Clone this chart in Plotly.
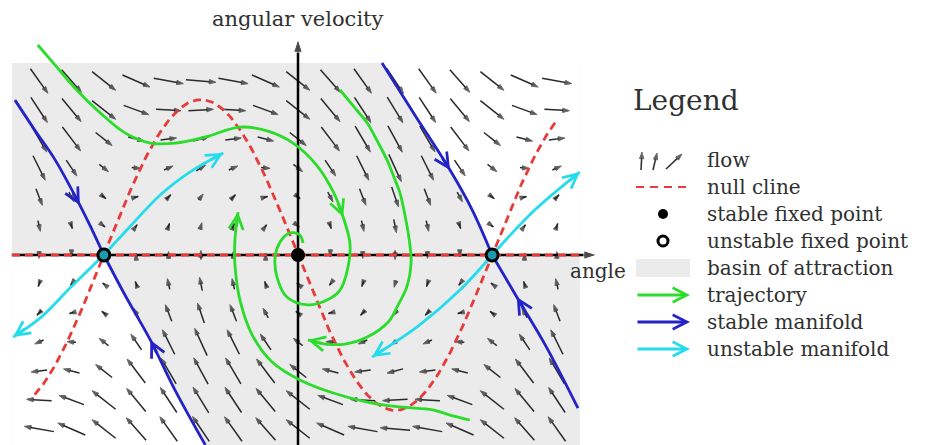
import numpy as np
import plotly.graph_objects as go

# ---- canvas and axis ranges (angle in rad, angular velocity in plot units) ----
W, H = 933, 445
X_RANGE = [-4.822, 10.275]
Y_RANGE = [-6.552, 8.793]
PX_X = W / (X_RANGE[1] - X_RANGE[0])
PX_Y = H / (Y_RANGE[1] - Y_RANGE[0])

# ---- damped pendulum model: theta' = w, w' = -sin(theta) - DAMPING * w ----
DAMPING = 0.56
OMEGA_SCALE = 3.0          # plotted velocity units per rad/s

# field sample grid
theta_grid = np.arange(-8, 9) * np.pi / 6
omega_grid = np.arange(-6, 7).astype(float)

# basin box
BOX_THETA = [-4.63, 4.56]
BOX_OMEGA = [-6.7, 6.62]

# trajectories (angle, angular velocity)
traj1_theta = [-4.21, -3.93, -3.61, -3.20, -2.80, -2.39, -1.99, -1.50, -0.94, -0.50,
               -0.08, 0.30, 0.58, 0.73, 0.84, 0.81, 0.68, 0.47, 0.15, -0.18, -0.34,
               -0.37, -0.29, -0.13, 0.03, 0.08]
traj1_omega = [7.24, 6.55, 5.76, 4.90, 4.21, 3.86, 3.86, 4.07, 4.41, 4.28,
               3.86, 3.10, 2.14, 1.31, 0.41, -0.41, -1.21, -1.55, -1.72, -1.45, -0.76,
               -0.07, 0.45, 0.76, 0.69, 0.41]
traj2_theta = [0.68, 0.92, 1.12, 1.29, 1.44, 1.57, 1.65, 1.73, 1.80, 1.83, 1.76,
               1.62, 1.46, 1.12, 0.76, 0.44, 0.16]
traj2_omega = [5.69, 5.07, 4.55, 3.90, 3.28, 2.59, 2.14, 1.38, 0.52, -0.24, -1.10,
               -1.72, -2.31, -2.83, -3.07, -3.07, -2.93]
traj3_theta = [2.78, 2.46, 2.18, 1.65, 1.12, 0.57, 0.03, -0.42, -0.74, -0.94, -1.02,
               -1.02, -0.97]
traj3_omega = [-5.69, -5.52, -5.34, -5.24, -5.07, -4.76, -4.31, -3.69, -2.76, -1.55,
               -0.34, 0.52, 1.48]

# stable manifolds (flowing into the saddles)
st_ul_theta = [-4.58, -4.26, -3.93, -3.53, -3.33, -np.pi]
st_ul_omega = [5.34, 4.31, 3.28, 1.72, 0.86, 0.0]
st_ll_theta = [-1.50, -1.99, -2.39, -2.80, -np.pi]
st_ll_omega = [-6.55, -4.66, -2.93, -1.38, 0.0]
st_ur_theta = [1.36, 1.89, 2.46, 2.82, np.pi]
st_ur_omega = [6.62, 4.83, 2.93, 1.55, 0.0]
st_lr_theta = [4.53, 4.00, 3.54, np.pi]
st_lr_omega = [-5.28, -3.10, -1.45, 0.0]

# unstable manifolds (leaving the saddles)
un_lu_theta = [-np.pi, -2.77, -2.23, -1.75, -1.21]
un_lu_omega = [0.0, 0.86, 2.07, 2.86, 3.52]
un_ld_theta = [-np.pi, -3.69, -4.17, -4.61]
un_ld_omega = [0.0, -1.14, -2.17, -2.83]
un_ru_theta = [np.pi, 3.83, 4.56]
un_ru_omega = [0.0, 1.55, 2.86]
un_rd_theta = [np.pi, 2.62, 1.97, 1.20]
un_rd_omega = [0.0, -1.21, -2.41, -3.52]

# null clines
NULL_THETA = [-4.26, 4.16]

GREEN = "#2bdc2b"
BLUE = "#2323c8"
CYAN = "#25dcec"
RED = "#e83a3a"
GRAY = "#ebebeb"
TEXT = "#303030"
FONT = "'DejaVu Serif', serif"
HEAD_TAIL_PX = 16

fig = go.Figure()

# basin of attraction
fig.add_shape(type="rect", xref="x", yref="y", x0=BOX_THETA[0], x1=BOX_THETA[1],
              y0=BOX_OMEGA[0], y1=BOX_OMEGA[1], fillcolor=GRAY, line_width=0, layer="below")
fig.add_trace(go.Scatter(
    x=st_ur_theta + [BOX_THETA[1], BOX_THETA[1]],
    y=st_ur_omega + [0.0, BOX_OMEGA[1]],
    fill="toself", fillcolor="white", mode="none", hoverinfo="skip"))
fig.add_trace(go.Scatter(
    x=st_ll_theta[::-1] + [st_ll_theta[0], BOX_THETA[0], BOX_THETA[0]],
    y=st_ll_omega[::-1] + [BOX_OMEGA[0], BOX_OMEGA[0], 0.0],
    fill="toself", fillcolor="white", mode="none", hoverinfo="skip"))

# direction field
TH, OM = np.meshgrid(theta_grid, omega_grid)
w_true = OM / OMEGA_SCALE
d_th = w_true
d_w = -np.sin(TH) - DAMPING * w_true
speed = np.hypot(d_th, d_w)
vx = d_th * PX_X
vy = d_w * OMEGA_SCALE * PX_Y
norm = np.hypot(vx, vy)
length = np.clip(9.0 * speed ** 2, 3.0, 30.0)
fx, fy, fs = [], [], []
for th, om, ax_, ay_, n, L in zip(TH.ravel(), OM.ravel(), vx.ravel(), vy.ravel(),
                                  norm.ravel(), length.ravel()):
    if n < 1e-9:
        continue
    ux, uy = ax_ / n, ay_ / n
    hx, hy = 0.5 * L * ux / PX_X, 0.5 * L * uy / PX_Y
    fx += [th - hx, th + hx, None]
    fy += [om - hy, om + hy, None]
    fs += [0, 7, 0]
fig.add_trace(go.Scatter(
    x=fx, y=fy, mode="lines+markers", line=dict(color="#2a2a2a", width=1.5),
    marker=dict(symbol="arrow", size=fs, color="#1a1a1a", angleref="previous"),
    hoverinfo="skip"))

# axes with arrow tips
fig.add_trace(go.Scatter(x=[BOX_THETA[0], 4.84], y=[0, 0], mode="lines+markers",
                         line=dict(color="black", width=2.5),
                         marker=dict(symbol="arrow", size=[0, 14], color="black",
                                     angleref="previous"), hoverinfo="skip"))
fig.add_trace(go.Scatter(x=[0, 0], y=[Y_RANGE[0], 7.45], mode="lines+markers",
                         line=dict(color="black", width=2.5),
                         marker=dict(symbol="arrow", size=[0, 14], color="black",
                                     angleref="previous"), hoverinfo="skip"))

# null clines: w = 0 and w = -sin(theta) / DAMPING
nc_theta = np.linspace(NULL_THETA[0], NULL_THETA[1], 300)
nc_omega = -OMEGA_SCALE * np.sin(nc_theta) / DAMPING
fig.add_trace(go.Scatter(x=nc_theta, y=nc_omega, mode="lines",
                         line=dict(color=RED, width=2.8, dash="8px,5px"), hoverinfo="skip"))
fig.add_trace(go.Scatter(x=[BOX_THETA[0], BOX_THETA[1]], y=[0, 0], mode="lines",
                         line=dict(color=RED, width=2.8, dash="8px,5px"), hoverinfo="skip"))


def curve(xs, ys, color, heads):
    """Smooth curve with open chevron heads at the listed point indices."""
    fig.add_trace(go.Scatter(
        x=xs, y=ys, mode="lines", line=dict(color=color, width=2.8, shape="spline"),
        hoverinfo="skip"))
    for i in heads:
        tx, ty = xs[i], ys[i]
        dxp = (xs[i - 1] - tx) * PX_X
        dyp = (ys[i - 1] - ty) * PX_Y
        d = np.hypot(dxp, dyp)
        bx = tx + HEAD_TAIL_PX * dxp / d / PX_X
        by = ty + HEAD_TAIL_PX * dyp / d / PX_Y
        fig.add_annotation(x=tx, y=ty, ax=bx, ay=by, xref="x", yref="y",
                           axref="x", ayref="y", text="", showarrow=True,
                           font=dict(size=1), arrowhead=5, arrowsize=1.0,
                           arrowwidth=2.8, arrowcolor=color)


# manifolds
curve(st_ul_theta, st_ul_omega, BLUE, [3])
curve(st_ll_theta, st_ll_omega, BLUE, [2])
curve(st_ur_theta, st_ur_omega, BLUE, [2])
curve(st_lr_theta, st_lr_omega, BLUE, [2])
curve(un_lu_theta, un_lu_omega, CYAN, [len(un_lu_theta) - 1])
curve(un_ld_theta, un_ld_omega, CYAN, [len(un_ld_theta) - 1])
curve(un_ru_theta, un_ru_omega, CYAN, [len(un_ru_theta) - 1])
curve(un_rd_theta, un_rd_omega, CYAN, [len(un_rd_theta) - 1])

# trajectories
curve(traj1_theta, traj1_omega, GREEN, [13])
curve(traj2_theta, traj2_omega, GREEN, [len(traj2_theta) - 1])
curve(traj3_theta, traj3_omega, GREEN, [len(traj3_theta) - 1])

# fixed points
fig.add_trace(go.Scatter(x=[0], y=[0], mode="markers",
                         marker=dict(size=14, color="black"), hoverinfo="skip"))
fig.add_trace(go.Scatter(x=[-np.pi, np.pi], y=[0, 0], mode="markers",
                         marker=dict(size=12, color="#1c9aae", line=dict(color="black", width=3)),
                         hoverinfo="skip"))

# axis titles
fig.add_annotation(x=0, y=Y_RANGE[1], xref="x", yref="y", yanchor="top", yshift=-5,
                   text="angular velocity", showarrow=False,
                   font=dict(family=FONT, size=21, color=TEXT))
fig.add_annotation(x=4.37, y=0, xref="x", yref="y", xanchor="left", yanchor="middle",
                   yshift=-16, text="angle", showarrow=False,
                   font=dict(family=FONT, size=20, color=TEXT))

# ---- legend panel (overlay axes in pixel units) ----
LEG_X_SYM = [636, 690]
LEG_X_TEXT = 705
LEG_ROWS = [160, 187, 214, 241, 268, 295, 322, 349]
LEG_LABELS = ["flow", "null cline", "stable fixed point", "unstable fixed point",
              "basin of attraction", "trajectory", "stable manifold", "unstable manifold"]

fig.add_annotation(x=631, y=100, xref="x2", yref="y2", xanchor="left", yanchor="middle",
                   text="Legend", showarrow=False, font=dict(family=FONT, size=28, color=TEXT))
for label, row in zip(LEG_LABELS, LEG_ROWS):
    fig.add_annotation(x=LEG_X_TEXT, y=row, xref="x2", yref="y2", xanchor="left",
                       yanchor="middle", text=label, showarrow=False,
                       font=dict(family=FONT, size=20, color=TEXT))

# flow icon: three small arrows
fig.add_trace(go.Scatter(
    x=[641, 642, None, 653, 657, None, 666, 682], y=[170, 152, None, 170, 153, None, 169, 154],
    xaxis="x2", yaxis="y2", mode="lines+markers", line=dict(color="#333333", width=1.6),
    marker=dict(symbol="arrow", size=[0, 7, 0, 0, 7, 0, 0, 7], color="#222222",
                angleref="previous"), hoverinfo="skip"))
# null cline icon
fig.add_trace(go.Scatter(x=LEG_X_SYM, y=[LEG_ROWS[1]] * 2, xaxis="x2", yaxis="y2",
                         mode="lines", line=dict(color=RED, width=2.2, dash="8px,6px"),
                         hoverinfo="skip"))
# fixed point icons
fig.add_trace(go.Scatter(x=[663], y=[LEG_ROWS[2]], xaxis="x2", yaxis="y2", mode="markers",
                         marker=dict(size=10, color="black"), hoverinfo="skip"))
fig.add_trace(go.Scatter(x=[663], y=[LEG_ROWS[3]], xaxis="x2", yaxis="y2", mode="markers",
                         marker=dict(size=10, color="white", line=dict(color="black", width=3)),
                         hoverinfo="skip"))
# basin icon
fig.add_shape(type="rect", xref="x2", yref="y2", x0=LEG_X_SYM[0], x1=LEG_X_SYM[1],
              y0=LEG_ROWS[4] - 9, y1=LEG_ROWS[4] + 9, fillcolor=GRAY, line_width=0)
# arrow icons
for color, row in zip([GREEN, BLUE, CYAN], LEG_ROWS[5:]):
    fig.add_annotation(x=LEG_X_SYM[1], y=row, ax=LEG_X_SYM[0], ay=row, xref="x2", yref="y2",
                       axref="x2", ayref="y2", text="", showarrow=True, font=dict(size=1),
                       arrowhead=5, arrowsize=1.0, arrowwidth=2.8, arrowcolor=color)

fig.update_layout(
    width=W, height=H, margin=dict(l=0, r=0, t=0, b=0),
    paper_bgcolor="white", plot_bgcolor="white", showlegend=False,
    xaxis=dict(range=X_RANGE, visible=False, fixedrange=True),
    yaxis=dict(range=Y_RANGE, visible=False, fixedrange=True),
    xaxis2=dict(range=[0, W], visible=False, overlaying="x", fixedrange=True),
    yaxis2=dict(range=[H, 0], visible=False, overlaying="y", fixedrange=True),
)

fig.write_html("out.html", config={"displayModeBar": False})
